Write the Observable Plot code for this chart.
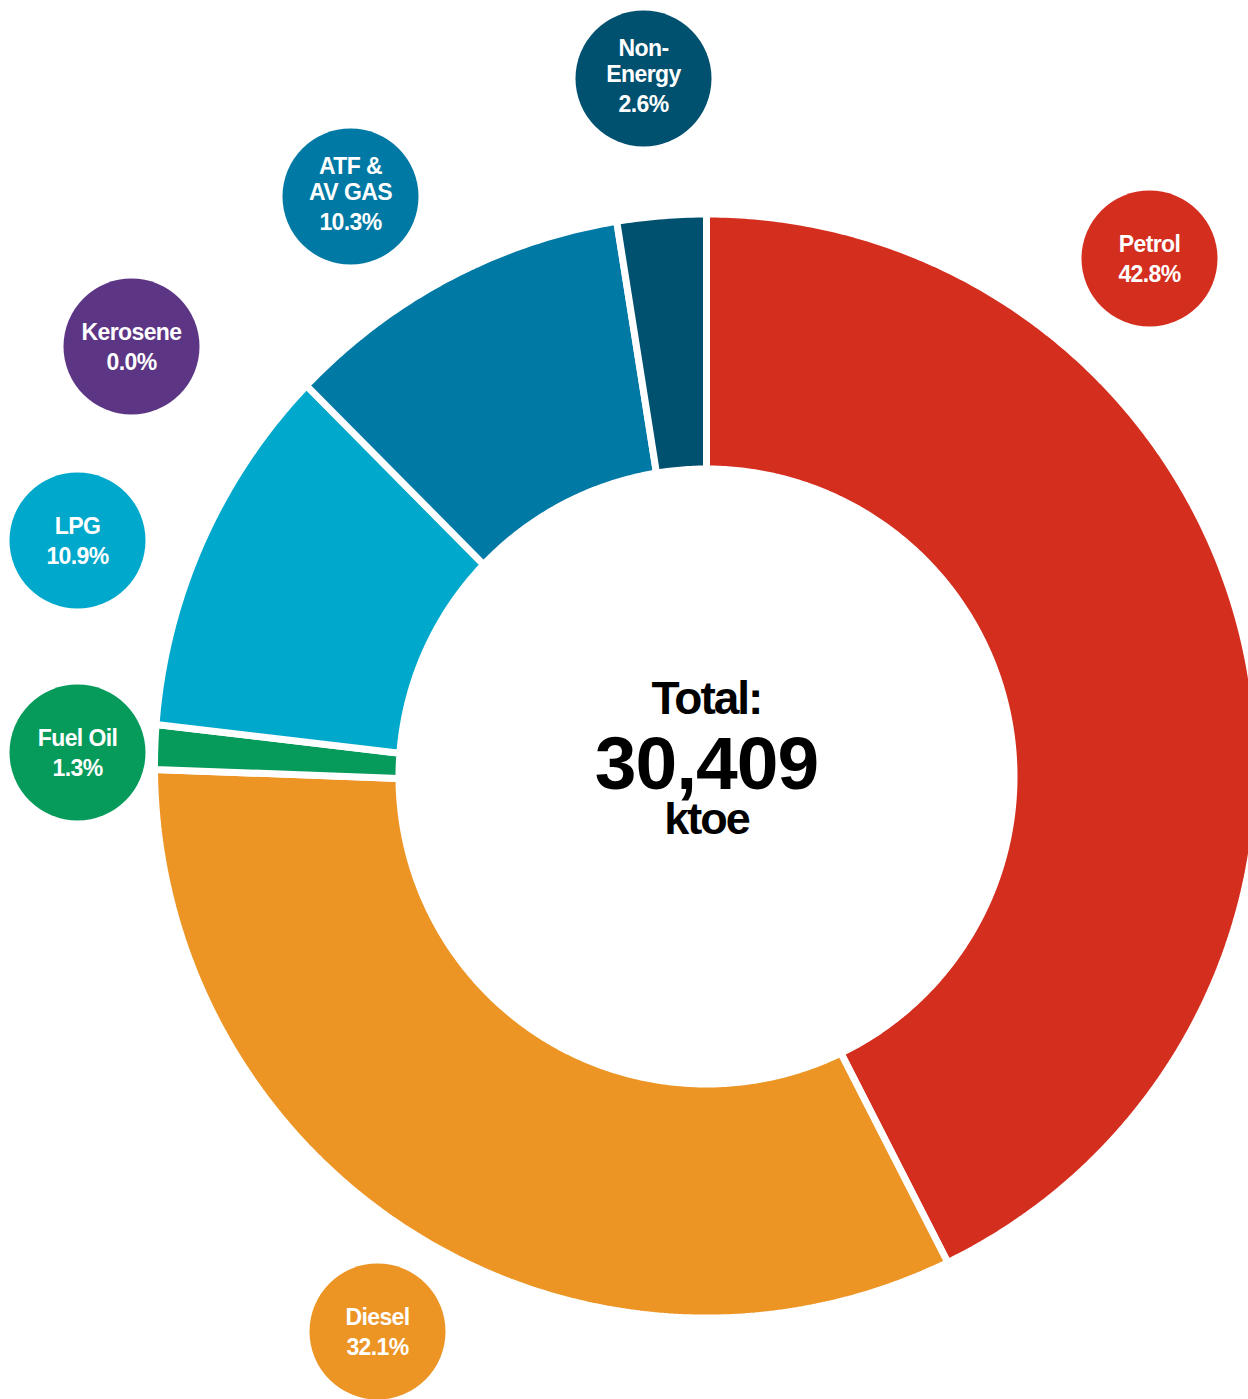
<!DOCTYPE html>
<html><head><meta charset="utf-8">
<script src="https://cdn.jsdelivr.net/npm/d3@7"></script>
<script src="https://cdn.jsdelivr.net/npm/@observablehq/plot@0.6"></script>
<style>
html,body{margin:0;padding:0;background:#fff;}
#chart svg{display:block;}
g[font-size="23"] text{letter-spacing:-0.6px;}
g[font-size="46"] text, g[font-size="45"] text{letter-spacing:-2px;}
g[font-size="75"] text{letter-spacing:-1px;}
</style></head><body><div id="chart"></div>
<script>
// ---- data ----
const categories = ["Petrol","Diesel","Fuel Oil","LPG","Kerosene","ATF & AV GAS","Non-Energy"];
const labels = ["Petrol","Diesel","Fuel Oil","LPG","Kerosene","ATF &\nAV GAS","Non-\nEnergy"];
const shares = [42.8, 32.1, 1.3, 10.9, 0.0, 10.3, 2.6];
const colors = ["#D42E1F","#EC9424","#069A5B","#00A8CC","#5C3585","#0079A4","#00506F"];
const totalLabel = "Total:";
const totalValue = 30409;
const unitLabel = "ktoe";

// ---- layout ----
const W = 1248, H = 1399;
const outer = {cx: 706, cy: 765.5, r: 552};
const inner = {cx: 706, cy: 776, r: 307.5};
const bubblePos = [[1149,258],[377,1331],[77,752],[77,540],[131,346],[350,196],[643,78]];
const bubbleR = 68;
const font = "'Liberation Sans', Arial, sans-serif";

const rows = categories.map((c, i) => ({cat: c, label: labels[i], share: shares[i]}));
const arcs = d3.pie().sort(null).value(d => d.share)(rows);

const step = Math.PI / 360;
const ringPts = [];
for (const a of arcs) {
  if (a.data.share <= 0) continue;
  const n = Math.max(2, Math.ceil((a.endAngle - a.startAngle) / step));
  for (let k = 0; k <= n; k++) {
    const t = a.startAngle + (a.endAngle - a.startAngle) * k / n;
    ringPts.push({cat: a.data.cat, x: outer.cx + outer.r * Math.sin(t), y: outer.cy - outer.r * Math.cos(t)});
  }
  for (let k = n; k >= 0; k--) {
    const t = a.startAngle + (a.endAngle - a.startAngle) * k / n;
    ringPts.push({cat: a.data.cat, x: inner.cx + inner.r * Math.sin(t), y: inner.cy - inner.r * Math.cos(t)});
  }
}

const pctFmt = d3.format(".1f");
const bubbles = rows.map((d, i) => ({
  ...d,
  x: bubblePos[i][0],
  y: bubblePos[i][1],
  nameY: bubblePos[i][1] + (d.label.includes("\n") ? 3 : -7),
  pct: pctFmt(d.share) + "%"
}));

const center = [{t: totalLabel, y: 713, s: 46}, {t: d3.format(",")(totalValue), y: 788, s: 75}, {t: unitLabel, y: 833, s: 45}];

const plot = Plot.plot({
  width: W, height: H, margin: 0,
  x: {type: "identity", axis: null},
  y: {type: "identity", axis: null},
  color: {domain: categories, range: colors},
  style: {background: "white"},
  marks: [
    Plot.line(ringPts, {x: "x", y: "y", z: "cat", fill: "cat", stroke: "white", strokeWidth: 7,
      strokeLinejoin: "miter", curve: "linear-closed"}),
    Plot.dot(bubbles, {x: "x", y: "y", r: bubbleR, fill: "cat", stroke: null}),
    Plot.text(bubbles, {x: "x", y: "nameY", text: "label", fill: "white", fontSize: 23, fontWeight: "bold",
      fontFamily: font, lineAnchor: "bottom", lineHeight: 25.5 / 23}),
    Plot.text(bubbles, {x: "x", y: d => d.nameY + 30.5, text: "pct", fill: "white", fontSize: 23, fontWeight: "bold",
      fontFamily: font, lineAnchor: "bottom"}),
    ...center.map(c => Plot.text([c], {x: () => inner.cx, y: "y", text: "t", fill: "black", fontSize: c.s,
      fontWeight: "bold", fontFamily: font, lineAnchor: "bottom"}))
  ]
});
document.getElementById("chart").appendChild(plot);
</script>
</body></html>
